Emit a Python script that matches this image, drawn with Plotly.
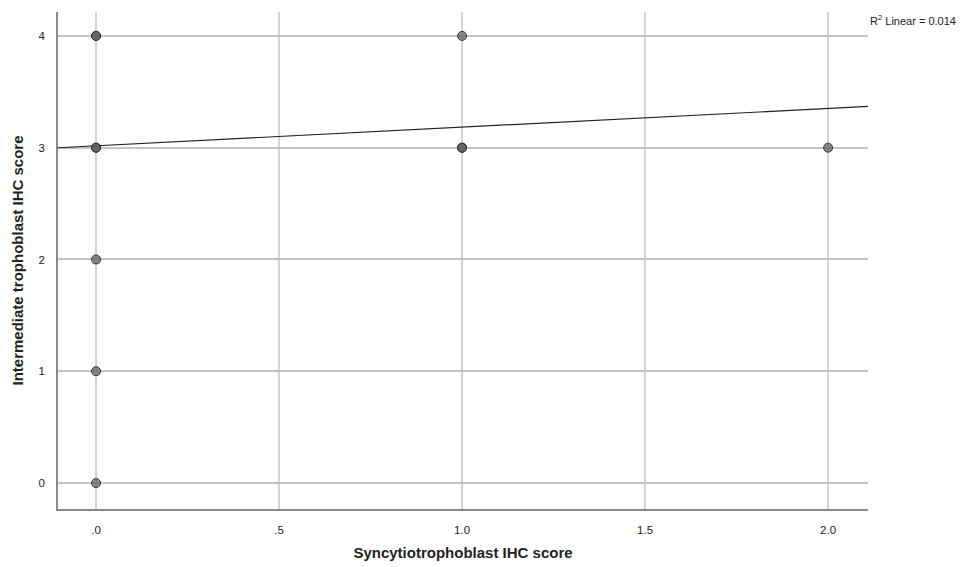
import plotly.graph_objects as go

# Data (duplicates represent overlapping cases)
syncytio = [0, 0, 0, 0, 0, 0, 0, 1, 1, 1, 2]
intermediate = [4, 4, 3, 3, 2, 1, 0, 4, 3, 3, 3]

# Linear fit as shown in the reference
fit_intercept = 3.017
fit_slope = 0.167
r2_text = "R<sup>2</sup> Linear = 0.014"

x_range = [-0.104, 2.109]
y_range = [-0.232, 4.214]

x_tickvals = [0, 0.5, 1.0, 1.5, 2.0]
x_ticktext = [".0", ".5", "1.0", "1.5", "2.0"]
y_tickvals = [0, 1, 2, 3, 4]

fig = go.Figure()

fig.add_trace(go.Scatter(
    x=x_range,
    y=[fit_intercept + fit_slope * v for v in x_range],
    mode="lines",
    line=dict(color="#222222", width=1.2),
    hoverinfo="skip",
    showlegend=False,
))

fig.add_trace(go.Scatter(
    x=syncytio, y=intermediate, mode="markers",
    marker=dict(size=9, color="rgba(90,90,90,0.7)",
                line=dict(color="rgba(40,40,40,0.9)", width=1)),
    showlegend=False,
))

fig.add_annotation(
    x=1, y=1, xref="paper", yref="paper", xanchor="left", yanchor="bottom",
    xshift=0, yshift=-17, text=r2_text, showarrow=False,
    font=dict(family="Liberation Sans, Arial", size=11, color="#222222"),
)

fig.update_layout(
    width=967, height=567,
    margin=dict(l=58, r=99, t=12, b=58),
    paper_bgcolor="white", plot_bgcolor="white",
    font=dict(family="Liberation Sans, Arial", size=11.5, color="#222222"),
    xaxis=dict(
        range=x_range, tickvals=x_tickvals, ticktext=x_ticktext,
        automargin=False,
        showgrid=True, gridcolor="#d4d4d4", gridwidth=1.5,
        zeroline=False, showline=True, linecolor="#8a8a8a", linewidth=1.5,
        ticks="", ticklabelstandoff=9,
        title=dict(text="<b>Syncytiotrophoblast IHC score</b>",
                   font=dict(size=15, color="#222222"), standoff=13),
    ),
    yaxis=dict(
        range=y_range, tickvals=y_tickvals,
        automargin=False,
        showgrid=True, gridcolor="#c4c4c4", gridwidth=1.5,
        zeroline=False, showline=True, linecolor="#8a8a8a", linewidth=1.5,
        ticks="", ticklabelstandoff=9,
        title=dict(text="<b>Intermediate trophoblast IHC score</b>",
                   font=dict(size=15, color="#222222"), standoff=11),
    ),
)

fig.write_html("out.html")
